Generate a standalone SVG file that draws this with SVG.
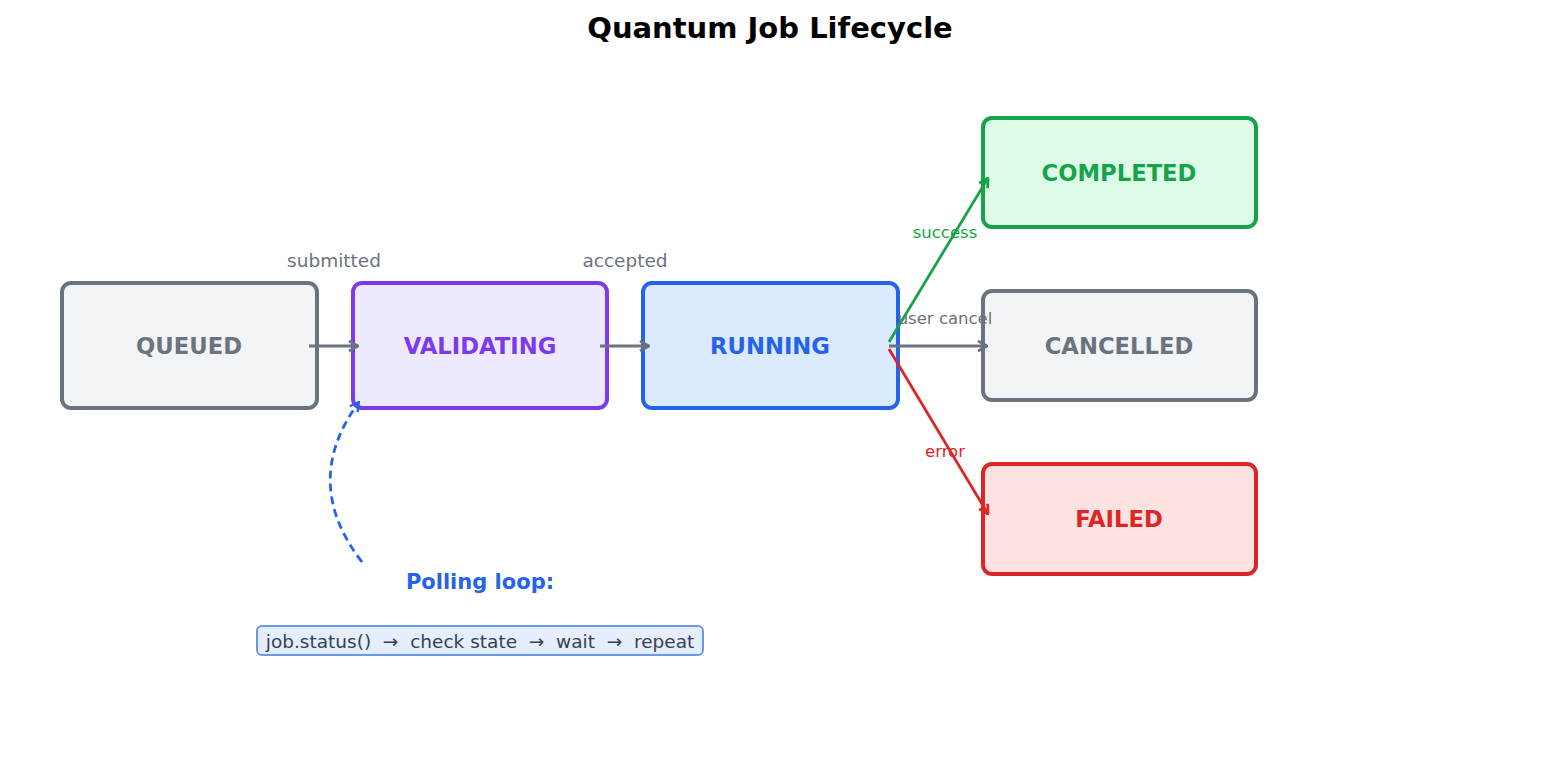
<svg xmlns="http://www.w3.org/2000/svg" width="1541" height="765" viewBox="0 0 1541 765">
<style>
text{font-family:"DejaVu Sans",sans-serif;text-anchor:middle;dominant-baseline:central}
.box{stroke-width:4}
.lbl{font-weight:bold;font-size:22.7px}
.edge{fill:none;stroke-width:2.8}
.el{font-size:16.5px}
</style>
<defs>
<marker id="ag" viewBox="0 0 12 12" refX="11" refY="6" markerWidth="12" markerHeight="12" markerUnits="userSpaceOnUse" orient="auto"><path d="M2,1 L11,6 L2,11" fill="none" stroke="#6b7280" stroke-width="2.8"/></marker>
<marker id="agr" viewBox="0 0 12 12" refX="11" refY="6" markerWidth="12" markerHeight="12" markerUnits="userSpaceOnUse" orient="auto"><path d="M2,1 L11,6 L2,11" fill="none" stroke="#16a34a" stroke-width="2.8"/></marker>
<marker id="are" viewBox="0 0 12 12" refX="11" refY="6" markerWidth="12" markerHeight="12" markerUnits="userSpaceOnUse" orient="auto"><path d="M2,1 L11,6 L2,11" fill="none" stroke="#dc2626" stroke-width="2.8"/></marker>
<marker id="abl" viewBox="0 0 12 12" refX="11" refY="6" markerWidth="12" markerHeight="12" markerUnits="userSpaceOnUse" orient="auto"><path d="M2,1 L11,6 L2,11" fill="none" stroke="#2563eb" stroke-width="2.2"/></marker>
</defs>
<rect width="1541" height="765" fill="#ffffff"/>
<text x="770" y="28" font-size="29" font-weight="bold" fill="#000">Quantum Job Lifecycle</text>
<g id="queued"><rect class="box" x="62" y="283" width="255" height="125" rx="9" fill="#f3f4f6" stroke="#6b7280"/><text class="lbl" x="189" y="346" fill="#6b7280">QUEUED</text></g>
<g id="validating"><rect class="box" x="353" y="283" width="254" height="125" rx="9" fill="#ede9fe" stroke="#7c3aed"/><text class="lbl" x="480" y="346" fill="#7c3aed">VALIDATING</text></g>
<g id="running"><rect class="box" x="643" y="283" width="255" height="125" rx="9" fill="#dbeafe" stroke="#2563eb"/><text class="lbl" x="770" y="346" fill="#2563eb">RUNNING</text></g>
<g id="completed"><rect class="box" x="983" y="118" width="273" height="109" rx="9" fill="#dcfce7" stroke="#16a34a"/><text class="lbl" x="1119" y="173" fill="#16a34a">COMPLETED</text></g>
<g id="cancelled"><rect class="box" x="983" y="291" width="273" height="109" rx="9" fill="#f3f4f6" stroke="#6b7280"/><text class="lbl" x="1119" y="346" fill="#6b7280">CANCELLED</text></g>
<g id="failed"><rect class="box" x="983" y="464" width="273" height="110" rx="9" fill="#fee2e2" stroke="#dc2626"/><text class="lbl" x="1119" y="519" fill="#dc2626">FAILED</text></g>
<g id="connectors">
<path class="edge" d="M309,346 L358,346" stroke="#6b7280" marker-end="url(#ag)"/>
<path class="edge" d="M600,346 L649,346" stroke="#6b7280" marker-end="url(#ag)"/>
<path class="edge" d="M889,346 L987,346" stroke="#6b7280" marker-end="url(#ag)"/>
<path class="edge" d="M889,342 L988,178" stroke="#16a34a" marker-end="url(#agr)"/>
<path class="edge" d="M889,349 L988,514" stroke="#dc2626" marker-end="url(#are)"/>
<path class="edge" d="M362,562 Q300,482 359,402" stroke="#2563eb" stroke-width="2.2" stroke-dasharray="8,5" marker-end="url(#abl)"/>
<text x="334" y="260" font-size="18.5" fill="#6b7280">submitted</text>
<text x="625" y="260" font-size="18.5" fill="#6b7280">accepted</text>
<text class="el" x="945" y="232" fill="#16a34a">success</text>
<text class="el" x="945" y="318" fill="#6b7280">user cancel</text>
<text class="el" x="945" y="451" fill="#dc2626">error</text>
</g>
<g id="polling">
<text x="480" y="582" font-size="21" font-weight="bold" fill="#2563eb">Polling loop:</text>
<rect x="257" y="626" width="446" height="29" rx="5" fill="#e4eefd" stroke="#6b97ee" stroke-width="2"/>
<text x="480" y="641" font-size="18.5" fill="#374151" xml:space="preserve" style="white-space:pre">job.status()  →  check state  →  wait  →  repeat</text>
</g>
</svg>
